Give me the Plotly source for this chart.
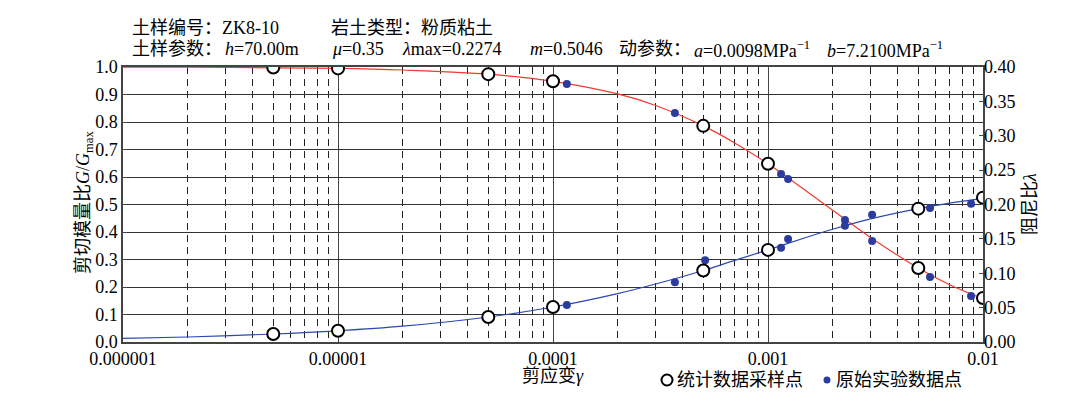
import plotly.graph_objects as go

# ---------------- data ----------------
curve_strain = [1e-6, 2e-6, 5e-6, 1e-5, 2e-5, 5e-5, 1e-4, 2e-4, 3e-4, 5e-4, 7e-4,
                1e-3, 1.5e-3, 2e-3, 3e-3, 5e-3, 7e-3, 1e-2]
curve_G = [0.9995, 0.999, 0.997, 0.995, 0.989, 0.974, 0.948, 0.902, 0.860, 0.786, 0.724,
           0.648, 0.550, 0.479, 0.380, 0.269, 0.208, 0.157]
curve_D = [0.0052, 0.0073, 0.0116, 0.0163, 0.0230, 0.0364, 0.0509, 0.0704, 0.0843, 0.104, 0.1187,
           0.134, 0.152, 0.164, 0.179, 0.194, 0.202, 0.209]

sample_strain = [5e-6, 1e-5, 5e-5, 1e-4, 5e-4, 1e-3, 5e-3, 1e-2]
sample_G = [0.998, 0.995, 0.974, 0.948, 0.786, 0.648, 0.269, 0.160]
sample_D = [0.0116, 0.0163, 0.0364, 0.0509, 0.104, 0.134, 0.194, 0.210]

test_strain_G = [1.16e-4, 3.69e-4, 1.15e-3, 1.24e-3, 2.28e-3, 3.05e-3, 5.67e-3, 8.8e-3]
test_G = [0.938, 0.833, 0.611, 0.593, 0.444, 0.367, 0.236, 0.167]
test_strain_D = [1.16e-4, 3.69e-4, 5.1e-4, 1.15e-3, 1.24e-3, 2.28e-3, 3.05e-3, 5.67e-3, 8.8e-3]
test_D = [0.0538, 0.087, 0.119, 0.137, 0.150, 0.169, 0.185, 0.195, 0.201]

x_tickvals = [1e-6, 1e-5, 1e-4, 1e-3, 1e-2]
x_ticktext = ["0.000001", "0.00001", "0.0001", "0.001", "0.01"]
x_minor = [k * 10.0 ** e for e in range(-6, -2) for k in range(2, 10)]

# ---------------- layout geometry (window pixels) ----------------
OFF = 8  # default page body margin
W, H = 1081 - OFF, 397 - OFF
L, R, T, B = 123, 983, 67, 342
FONT = "Liberation Serif, Times New Roman, Noto Sans CJK SC, serif"
RED = "#f03a2e"
BLUE = "#2d47b4"
DOT = "#2b3c9e"


def px(x):
    return (x - L) / (R - L)


def py(y):
    return (B - y) / (B - T)


fig = go.Figure()

# curves
fig.add_trace(go.Scatter(x=curve_strain, y=curve_G, mode="lines", line=dict(color=RED, width=1.2, shape="spline"),
                         showlegend=False, hoverinfo="skip"))
fig.add_trace(go.Scatter(x=curve_strain, y=curve_D, mode="lines", yaxis="y2",
                         line=dict(color=BLUE, width=1.2, shape="spline"), showlegend=False, hoverinfo="skip"))
# original test points
fig.add_trace(go.Scatter(x=test_strain_G, y=test_G, mode="markers",
                         marker=dict(color=DOT, size=8, line=dict(width=0)), showlegend=False))
fig.add_trace(go.Scatter(x=test_strain_D, y=test_D, mode="markers", yaxis="y2",
                         marker=dict(color=DOT, size=8, line=dict(width=0)), showlegend=False))
# statistical sample points
fig.add_trace(go.Scatter(x=sample_strain, y=sample_G, mode="markers",
                         marker=dict(color="white", size=12, line=dict(color="black", width=2)), showlegend=False))
fig.add_trace(go.Scatter(x=sample_strain, y=sample_D, mode="markers", yaxis="y2",
                         marker=dict(color="white", size=12, line=dict(color="black", width=2)), showlegend=False))

annotations = []


def note(text, x, y, size=18, xanchor="left", angle=0):
    annotations.append(dict(text=text, x=px(x), y=py(y), xref="paper", yref="paper",
                            xanchor=xanchor, yanchor="middle", showarrow=False, textangle=angle,
                            font=dict(family=FONT, size=size, color="black")))


# header
note("土样编号：ZK8-10", 130, 28)
note("岩土类型：粉质粘土", 329, 28)
note("土样参数：", 130, 49)
note("<i>h</i>=70.00m", 223, 49)
note("<i>μ</i>=0.35", 330, 49)
note("<i>λ</i>max=0.2274", 400, 49)
note("<i>m</i>=0.5046", 528, 49)
note("动参数：", 617, 49)
note("<i>a</i>=0.0098MPa<sup>−1</sup>", 692, 49)
note("<i>b</i>=7.2100MPa<sup>−1</sup>", 825, 49)

# axis titles
note("剪切模量比<i>G</i>/<i>G</i><sub>max</sub>", 84, 203, xanchor="center", angle=-90)
note("阻尼比<i>λ</i>", 1030, 204, xanchor="center", angle=-90)
note("剪应变<i>γ</i>", 553, 376, xanchor="center")

# legend
note("统计数据采样点", 675, 380)
note("原始实验数据点", 834, 380)

shapes = [
    dict(type="circle", xref="paper", yref="paper", x0=px(661.5), x1=px(672.5), y0=py(385.5), y1=py(374.5),
         line=dict(color="black", width=2), fillcolor="white"),
    dict(type="circle", xref="paper", yref="paper", x0=px(823.5), x1=px(830.5), y0=py(383.5), y1=py(376.5),
         line=dict(width=0), fillcolor=DOT),
]

fig.update_layout(
    width=W, height=H,
    margin=dict(l=L - OFF, r=W - (R - OFF), t=T - OFF, b=H - (B - OFF), pad=0),
    paper_bgcolor="white", plot_bgcolor="white",
    font=dict(family=FONT, size=17, color="black"),
    showlegend=False,
    annotations=annotations,
    shapes=shapes,
    xaxis=dict(type="log", range=[-6, -2], tickmode="array", tickvals=x_tickvals, ticktext=x_ticktext,
               showgrid=True, gridcolor="#444", gridwidth=1, ticks="", showline=True, mirror=True,
               linecolor="#444", linewidth=1.5, zeroline=False, tickfont=dict(size=18),
               minor=dict(tickmode="array", tickvals=x_minor, showgrid=True, gridcolor="#222",
                          gridwidth=1, griddash="7px,5px", ticks="")),
    yaxis=dict(range=[0, 1], dtick=0.1, tick0=0, tickformat=".1f", showgrid=True, gridcolor="#333",
               gridwidth=1, ticks="inside", ticklen=4, tickcolor="#444", showline=True, mirror=True,
               linecolor="#444", linewidth=1.5, zeroline=False, tickfont=dict(size=18), ticklabelstandoff=0),
    yaxis2=dict(range=[0, 0.4], dtick=0.05, tick0=0, tickformat=".2f", overlaying="y", side="right",
                showgrid=False, ticks="inside", ticklen=4, tickcolor="#444", zeroline=False,
                showline=False, tickfont=dict(size=18), ticklabelstandoff=0),
)

fig.write_html("out.html")
